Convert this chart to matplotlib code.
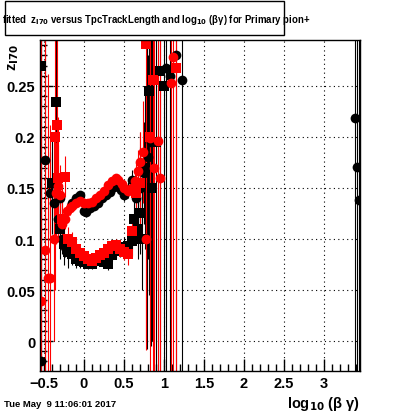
import matplotlib
matplotlib.use("Agg")
import matplotlib.pyplot as plt
from matplotlib.ticker import MultipleLocator
import numpy as np

plt.rcParams["font.family"] = ["Liberation Sans", "DejaVu Sans"]
plt.rcParams["font.weight"] = "bold"
plt.rcParams["mathtext.default"] = "bf"

# ── data: (log10(beta*gamma), z_I70, error) ──
bc_x = [-0.54, -0.49, -0.42, -0.38, -0.33, -0.30, -0.27, -0.24, -0.20, -0.15,
        -0.10, -0.05, 0.00, 0.03, 0.07, 0.12, 0.17, 0.22, 0.27, 0.32,
        0.37, 0.42, 0.46, 0.50, 0.55, 0.60, 0.65, 0.70, 0.75, 0.80,
        0.84, 1.02, 1.08, 1.15, 1.22, 3.39, 3.41, 3.44]
bc_y = [-0.020, 0.177, 0.145, 0.135, 0.120, 0.140, 0.100, 0.092, 0.090, 0.135,
        0.140, 0.143, 0.127, 0.126, 0.130, 0.132, 0.135, 0.140, 0.143, 0.146,
        0.151, 0.155, 0.148, 0.143, 0.148, 0.158, 0.140, 0.150, 0.165, 0.180,
        0.195, 0.268, 0.260, 0.280, 0.256, 0.219, 0.171, 0.138]
bc_e = [0.40, 0.30, 0.04, 0.03, 0.02, 0.015, 0.015, 0.010, 0.010, 0.006,
        0.005, 0.004, 0.004, 0.004, 0.004, 0.004, 0.004, 0.004, 0.004, 0.004,
        0.004, 0.005, 0.005, 0.006, 0.008, 0.010, 0.020, 0.040, 0.050, 0.100,
        0.200, 0.50, 0.50, 0.50, 0.50, 0.50, 0.50, 0.50]

bs_x = [-0.54, -0.35, -0.40, -0.30, -0.25, -0.20, -0.15, -0.10, -0.05, 0.00,
        0.05, 0.10, 0.15, 0.20, 0.25, 0.30, 0.35, 0.40, 0.45, 0.50,
        0.55, 0.60, 0.63, 0.67, 0.70, 0.73, 0.76, 0.79, 0.81, 0.85,
        0.90, 0.95, 1.00]
bs_y = [0.270, 0.234, 0.155, 0.110, 0.095, 0.087, 0.085, 0.080, 0.078, 0.077,
        0.076, 0.076, 0.078, 0.079, 0.077, 0.076, 0.084, 0.088, 0.090, 0.092,
        0.093, 0.098, 0.120, 0.110, 0.125, 0.100, 0.170, 0.292, 0.245, 0.150,
        0.195, 0.265, 0.250]
bs_e = [0.40, 0.10, 0.05, 0.03, 0.02, 0.015, 0.010, 0.008, 0.006, 0.005,
        0.005, 0.005, 0.005, 0.005, 0.005, 0.006, 0.006, 0.007, 0.008, 0.010,
        0.012, 0.015, 0.020, 0.030, 0.040, 0.050, 0.080, 0.30, 0.20, 0.15,
        0.30, 0.40, 0.40]

rc_x = [-0.54, -0.49, -0.45, -0.42, -0.38, -0.35, -0.32, -0.30, -0.27, -0.24,
        -0.21, -0.18, -0.15, -0.10, -0.05, 0.00, 0.05, 0.10, 0.15, 0.20,
        0.25, 0.30, 0.35, 0.40, 0.43, 0.47, 0.50, 0.55, 0.60, 0.64,
        0.67, 0.70, 0.74, 0.78, 0.83, 0.88, 0.92, 0.95, 1.09, 1.11]
rc_y = [0.039, 0.089, 0.062, 0.062, 0.100, 0.145, 0.152, 0.143, 0.115, 0.120,
        0.127, 0.130, 0.132, 0.135, 0.137, 0.135, 0.135, 0.136, 0.140, 0.143,
        0.147, 0.153, 0.157, 0.160, 0.158, 0.154, 0.150, 0.147, 0.150, 0.157,
        0.167, 0.175, 0.185, 0.100, 0.199, 0.170, 0.196, 0.160, 0.253, 0.278]
rc_e = [0.40, 0.30, 0.20, 0.15, 0.10, 0.05, 0.04, 0.03, 0.02, 0.010,
        0.008, 0.006, 0.005, 0.005, 0.004, 0.004, 0.004, 0.004, 0.004, 0.004,
        0.004, 0.004, 0.004, 0.004, 0.005, 0.005, 0.005, 0.006, 0.008, 0.012,
        0.020, 0.030, 0.050, 0.10, 0.30, 0.30, 0.30, 0.30, 0.50, 0.50]

rs_x = [-0.36, -0.34, -0.33, -0.28, -0.24, -0.20, -0.15, -0.10, -0.05, 0.00,
        0.05, 0.10, 0.15, 0.20, 0.25, 0.30, 0.35, 0.40, 0.45, 0.50,
        0.55, 0.60, 0.65, 0.70, 0.78, 0.82, 0.86, 1.15]
rs_y = [0.200, 0.212, 0.160, 0.120, 0.161, 0.100, 0.097, 0.090, 0.086, 0.083,
        0.080, 0.078, 0.081, 0.084, 0.086, 0.090, 0.093, 0.094, 0.090, 0.087,
        0.085, 0.108, 0.145, 0.155, 0.291, 0.200, 0.256, 0.268]
rs_e = [0.15, 0.10, 0.06, 0.03, 0.02, 0.012, 0.010, 0.008, 0.006, 0.005,
        0.005, 0.005, 0.005, 0.005, 0.005, 0.005, 0.006, 0.006, 0.007, 0.008,
        0.010, 0.015, 0.030, 0.050, 0.30, 0.20, 0.30, 0.50]

fig = plt.figure(figsize=(4.0, 4.14), dpi=100)
ax = fig.add_axes([0.10, 0.101, 0.80, 0.80])

err_kw = dict(ls="none", elinewidth=0.8, capsize=0, markeredgewidth=0)
ms = 7
ax.errorbar(bs_x, bs_y, yerr=bs_e, fmt="s", color="black", ms=ms, **err_kw)
ax.errorbar(bc_x, bc_y, yerr=bc_e, fmt="o", color="black", ms=ms, **err_kw)
ax.errorbar(rs_x, rs_y, yerr=rs_e, fmt="s", color="red", ms=ms, **err_kw)
ax.errorbar(rc_x, rc_y, yerr=rc_e, fmt="o", color="red", ms=ms, **err_kw)

ax.set_xlim(-0.55, 3.45)
ax.set_ylim(-0.0295, 0.295)
ax.xaxis.set_major_locator(MultipleLocator(0.5))
ax.xaxis.set_minor_locator(MultipleLocator(0.1))
ax.yaxis.set_major_locator(MultipleLocator(0.05))
ax.yaxis.set_minor_locator(MultipleLocator(0.01))
ax.tick_params(which="both", direction="in", top=False, right=False,
               labelsize=10.5, width=1)
ax.tick_params(which="major", length=9)
ax.tick_params(which="minor", length=5)
ax.set_xticks([-0.5, 0, 0.5, 1, 1.5, 2, 2.5, 3])
ax.set_xticklabels(["\u22120.5", "0", "0.5", "1", "1.5", "2", "2.5", "3"],
                   fontweight="bold")
ax.set_yticks([0, 0.05, 0.1, 0.15, 0.2, 0.25])
ax.set_yticklabels(["0", "0.05", "0.1", "0.15", "0.2", "0.25"],
                   fontweight="bold")
ax.grid(True, which="major", ls=(0, (1, 3)), color="black", lw=0.8)
for s in ax.spines.values():
    s.set_linewidth(1)

# titles and labels
fig.text(0.035, 0.86, "z$_{I70}$", rotation=90, fontsize=10.5,
         fontweight="bold", ha="center", va="center")
fig.text(0.90, 0.003, "log$_{10}$ (\u03b2 \u03b3)", fontsize=10.5,
         fontweight="bold", ha="right", va="bottom")
fig.text(0.01, 0.012, "Tue May  9 11:06:01 2017", fontsize=6.8,
         fontweight="bold", ha="left", va="bottom")

box = plt.Rectangle((0.012, 0.912), 0.698, 0.082, transform=fig.transFigure,
                    facecolor="white", edgecolor="black", lw=1)
fig.add_artist(box)
fig.text(0.006, 0.951,
         "fitted  z$_{I70}$ versus TpcTrackLength and log$_{10}$ (\u03b2\u03b3) for Primary pion+",
         fontsize=6.9, fontweight="bold", ha="left", va="center")

fig.savefig("out.png", dpi=100)
